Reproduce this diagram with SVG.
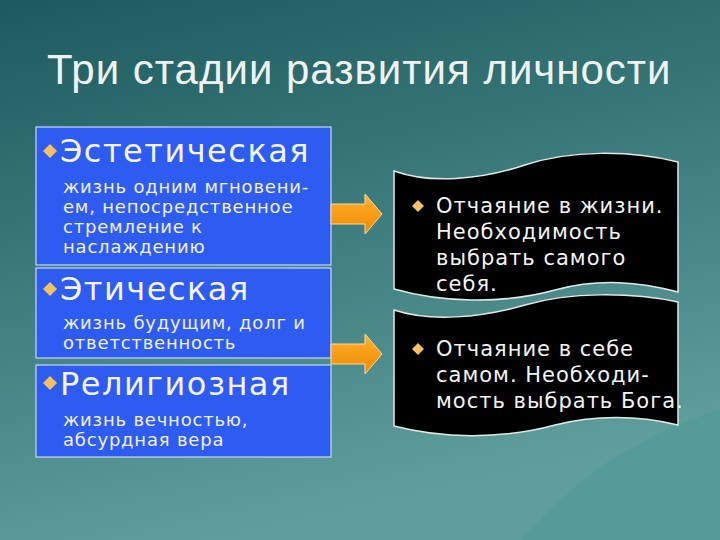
<svg xmlns="http://www.w3.org/2000/svg" width="720" height="540" viewBox="0 0 720 540">
<defs>
<linearGradient id="bg" x1="0" y1="0" x2="0.3" y2="1">
<stop offset="0" stop-color="#1c5a5e"/><stop offset="1" stop-color="#5f9e9c"/>
</linearGradient>
<linearGradient id="ar" x1="0" y1="0" x2="0" y2="1">
<stop offset="0" stop-color="#ffb030"/><stop offset="1" stop-color="#f08a00"/>
</linearGradient>
<style>
.box{fill:#2f5cf0;stroke:#c8d8f0;stroke-width:1.2}
.h{font-family:"DejaVu Sans",sans-serif;font-size:32px;fill:#f4f4f4;letter-spacing:1.5px}
.b{font-family:"DejaVu Sans",sans-serif;font-size:18px;fill:#f0f0f0;letter-spacing:0.8px}
.r{font-family:"DejaVu Sans",sans-serif;font-size:21px;fill:#f4f4f4;letter-spacing:1px}
.d{fill:#f5c060}
.arrow{fill:url(#ar);stroke:#ffd89a;stroke-width:1}
.wave{fill:#000;stroke:#e0e8e8;stroke-width:1.5}
</style>
</defs>
<rect width="720" height="540" fill="url(#bg)"/>
<path d="M520,540 C560,500 590,470 620,455 C640,445 660,430 690,420 C700,417 710,412 720,410 L720,540 Z" fill="#4f9a98" opacity="0.6"/>
<text x="47" y="84" font-family="Liberation Sans,sans-serif" font-size="42" fill="#eef2f2" letter-spacing="1">Три стадии развития личности</text>
<g id="node-aesthetic">
<rect class="box" x="36" y="127" width="295" height="138"/>
<path class="d" d="M43,151 l7,-7 l7,7 l-7,7 z"/>
<text class="h" x="60" y="162">Эстетическая</text>
<text class="b" x="63" y="193">жизнь одним мгновени-</text>
<text class="b" x="63" y="213">ем, непосредственное</text>
<text class="b" x="63" y="233">стремление к</text>
<text class="b" x="63" y="253">наслаждению</text>
</g>
<g id="node-ethical">
<rect class="box" x="36" y="268" width="295" height="90"/>
<path class="d" d="M43,289 l7,-7 l7,7 l-7,7 z"/>
<text class="h" x="60" y="300">Этическая</text>
<text class="b" x="63" y="329">жизнь будущим, долг и</text>
<text class="b" x="63" y="349">ответственность</text>
</g>
<g id="node-religious">
<rect class="box" x="36" y="365" width="295" height="92"/>
<path class="d" d="M43,383 l7,-7 l7,7 l-7,7 z"/>
<text class="h" x="60" y="395">Религиозная</text>
<text class="b" x="63" y="426">жизнь вечностью,</text>
<text class="b" x="63" y="446">абсурдная вера</text>
</g>
<g id="connectors">
<path class="arrow" d="M331,204 L365,204 L365,194 L382,214 L365,234 L365,224 L331,224 Z"/>
<path class="arrow" d="M331,344 L365,344 L365,334 L382,354 L365,374 L365,364 L331,364 Z"/>
</g>
<g id="node-despair1">
<path class="wave" d="M394,171 C430,184 480,180 525,165 C570,150 630,150 678,162 L678,292 C640,282 600,278 555,290 C500,305 440,302 394,289 Z"/>
<path class="d" d="M412,206 l6,-6 l6,6 l-6,6 z"/>
<text class="r" x="436" y="213">Отчаяние в жизни.</text>
<text class="r" x="436" y="239">Необходимость</text>
<text class="r" x="436" y="265">выбрать самого</text>
<text class="r" x="436" y="291">себя.</text>
</g>
<g id="node-despair2">
<path class="wave" d="M394,310 C430,322 480,318 525,305 C570,292 630,292 678,302 L678,425 C640,416 600,414 555,425 C500,440 440,438 394,426 Z"/>
<path class="d" d="M412,349 l6,-6 l6,6 l-6,6 z"/>
<text class="r" x="436" y="356">Отчаяние в себе</text>
<text class="r" x="436" y="382">самом. Необходи-</text>
<text class="r" x="436" y="408">мость выбрать Бога.</text>
</g>
</svg>
